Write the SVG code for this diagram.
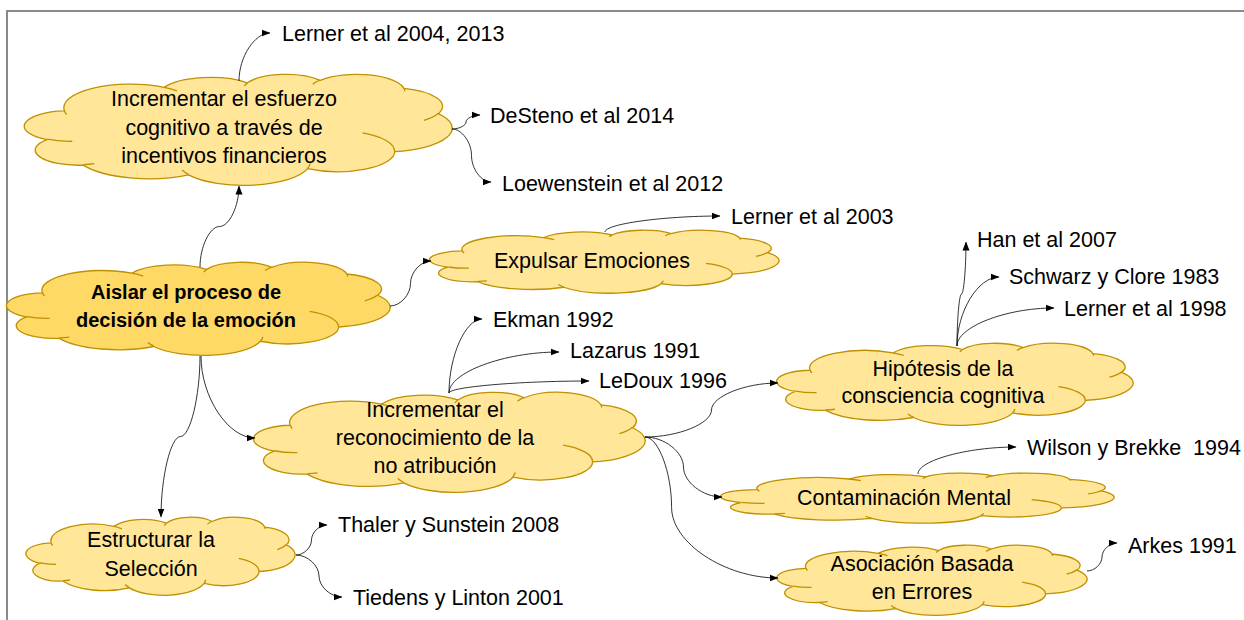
<svg xmlns="http://www.w3.org/2000/svg" xmlns:xlink="http://www.w3.org/1999/xlink" width="1244" height="620" viewBox="0 0 1244 620">
<style>
.co{vector-effect:non-scaling-stroke;stroke:#BF9000;stroke-width:1.3}
.ci{vector-effect:non-scaling-stroke;stroke:#BF9000;stroke-width:1.3;fill:none}
.lt{fill:#FFE699}
.dk{fill:#FFD966}
.t{font-family:"Liberation Sans",Arial,sans-serif;font-size:21.5px;fill:#000}
.b{font-weight:bold;font-size:20px}
.c{text-anchor:middle}
.cn{fill:none;stroke:#000;stroke-width:0.8;marker-end:url(#ah)}
</style>
<defs>
<marker id="ah" markerUnits="userSpaceOnUse" markerWidth="9" markerHeight="8" viewBox="0 0 9 7" refX="8.5" refY="3.5" orient="auto">
<path d="M0,0 L9,3.5 L0,7 Z" fill="#000"/>
</marker>
<g id="cloud">
<path class="co" d="M9.03,33.26 A15.63,21.27 0 0 1 32.42,12.04 A12.35,16.82 0 0 1 51.97,7.93 A10.10,13.76 0 0 1 69.05,5.73 A11.24,15.27 0 0 1 88.69,12.88 A12.35,16.84 0 0 1 96.79,35.76 A15.68,21.34 0 0 1 86.58,69.89 A13.39,18.21 0 0 1 66.11,85.21 A15.63,21.33 0 0 1 38.15,90.85 A17.87,24.41 0 0 1 13.43,82.10 A10.09,13.70 0 0 1 4.90,59.12 A10.06,13.76 0 0 1 9.03,33.26 Z"/>
<path class="ci" d="M10.86,60.59 A10.06,13.76 0 0 1 4.99,58.75 M16.04,80.78 A10.09,13.70 0 0 1 13.46,81.67 M38.14,90.49 A15.63,21.33 0 0 1 36.61,86.48 M66.73,80.44 A15.63,21.33 0 0 1 66.11,84.88 M79.00,53.13 A13.39,18.21 0 0 1 86.53,69.65 M96.75,35.54 A12.35,16.84 0 0 1 93.40,41.74 M88.71,12.56 A11.24,15.27 0 0 1 88.89,15.50 M67.31,9.15 A11.24,15.27 0 0 1 69.03,5.42 M51.25,10.93 A10.10,13.76 0 0 1 52.08,7.71 M32.41,12.02 A15.63,21.27 0 0 1 35.42,15.14 M9.55,36.55 A15.63,21.27 0 0 1 9.03,33.27"/>
</g>
</defs>
<rect width="1244" height="620" fill="#fff"/>
<rect x="7" y="11" width="1300" height="700" fill="none" stroke="#8A8A8A" stroke-width="2"/>

<g id="nodes">
<g id="node-aislar">
<use xlink:href="#cloud" class="dk" transform="translate(8,262) scale(3.82,0.93)"/>
<text class="t b c" x="186" y="299">Aislar el proceso de</text>
<text class="t b c" x="186" y="327">decisión de la emoción</text>
</g>
<g id="node-esfuerzo">
<use xlink:href="#cloud" class="lt" transform="translate(26,74) scale(4.26,1.11)"/>
<text class="t c" x="224" y="106">Incrementar el esfuerzo</text>
<text class="t c" x="224" y="135">cognitivo a través de</text>
<text class="t c" x="224" y="163">incentivos financieros</text>
</g>
<g id="node-expulsar">
<use xlink:href="#cloud" class="lt" transform="translate(431,230) scale(3.48,0.63)"/>
<text class="t c" x="592" y="268">Expulsar Emociones</text>
</g>
<g id="node-reconocimiento">
<use xlink:href="#cloud" class="lt" transform="translate(255,392) scale(3.90,1.00)"/>
<text class="t c" x="435" y="417">Incrementar el</text>
<text class="t c" x="435" y="445">reconocimiento de la</text>
<text class="t c" x="435" y="473">no atribución</text>
</g>
<g id="node-estructurar">
<use xlink:href="#cloud" class="lt" transform="translate(27,517) scale(2.68,0.78)"/>
<text class="t c" x="151" y="547">Estructurar la</text>
<text class="t c" x="151" y="576">Selección</text>
</g>
<g id="node-hipotesis">
<use xlink:href="#cloud" class="lt" transform="translate(778,343) scale(3.55,0.82)"/>
<text class="t c" x="943" y="376">Hipótesis de la</text>
<text class="t c" x="943" y="403">consciencia cognitiva</text>
</g>
<g id="node-contaminacion">
<use xlink:href="#cloud" class="lt" transform="translate(722,473) scale(3.92,0.50)"/>
<text class="t c" x="904" y="505">Contaminación Mental</text>
</g>
<g id="node-asociacion">
<use xlink:href="#cloud" class="lt" transform="translate(778,545) scale(3.09,0.70)"/>
<text class="t c" x="922" y="571">Asociación Basada</text>
<text class="t c" x="922" y="599">en Errores</text>
</g>

<g id="ref-lerner2004"><text class="t" x="282" y="41">Lerner et al 2004, 2013</text></g>
<g id="ref-desteno"><text class="t" x="490" y="123">DeSteno et al 2014</text></g>
<g id="ref-loewenstein"><text class="t" x="502" y="191">Loewenstein et al 2012</text></g>
<g id="ref-lerner2003"><text class="t" x="731" y="224">Lerner et al 2003</text></g>
<g id="ref-ekman"><text class="t" x="493" y="327">Ekman 1992</text></g>
<g id="ref-lazarus"><text class="t" x="570" y="358">Lazarus 1991</text></g>
<g id="ref-ledoux"><text class="t" x="599" y="388">LeDoux 1996</text></g>
<g id="ref-han"><text class="t" x="977" y="247">Han et al 2007</text></g>
<g id="ref-schwarz"><text class="t" x="1009" y="284">Schwarz y Clore 1983</text></g>
<g id="ref-lerner1998"><text class="t" x="1064" y="316">Lerner et al 1998</text></g>
<g id="ref-wilson"><text class="t" x="1027" y="455" xml:space="preserve" style="white-space:pre">Wilson y Brekke  1994</text></g>
<g id="ref-arkes"><text class="t" x="1128" y="553">Arkes 1991</text></g>
<g id="ref-thaler"><text class="t" x="338" y="532">Thaler y Sunstein 2008</text></g>
<g id="ref-tiedens"><text class="t" x="353" y="605">Tiedens y Linton 2001</text></g>
</g>

<g id="connectors">
<path class="cn" d="M200,267 C200,246.75 209.75,226.5 219.5,226.5 C229.25,226.5 239,206.25 239,186"/>
<path class="cn" d="M390,306 C400.25,306 410.5,294.75 410.5,283.5 C410.5,272.25 420.75,261 431,261"/>
<path class="cn" d="M201,356 C201,397 228,438 255,438"/>
<path class="cn" d="M200,356 C200,396.25 190.25,436.5 180.5,436.5 C170.75,436.5 161,476.75 161,517"/>
<path class="cn" d="M239,81 C239,57 254.5,33 270,33"/>
<path class="cn" d="M452,129 C459,129 466,125.5 466,122 C466,118.5 473,115 480,115"/>
<path class="cn" d="M452,129 C461.75,129 471.5,142.25 471.5,155.5 C471.5,168.75 481.25,182 491,182"/>
<path class="cn" d="M605,232 C605,224 662.5,216 720,216"/>
<path class="cn" d="M449,393 C449,356 465.5,319 482,319"/>
<path class="cn" d="M449,393 C449,372.5 504,352 559,352"/>
<path class="cn" d="M449,393 C449,387 519,381 589,381"/>
<path class="cn" d="M645,437 C678.25,437 711.5,423.5 711.5,410 C711.5,396.5 744.75,383 778,383"/>
<path class="cn" d="M645,437 C664.25,437 683.5,452 683.5,467 C683.5,482 702.75,497 722,497"/>
<path class="cn" d="M645,437 C658.3,437 671.6,472.25 671.6,507.5 C671.6,542.75 724.8,578 778,578"/>
<path class="cn" d="M957,346 C957,320 959.25,294 961.5,294 C963.75,294 966,268 966,242"/>
<path class="cn" d="M957,346 C957,311.5 978,277 999,277"/>
<path class="cn" d="M957,346 C957,327 1005.5,308 1054,308"/>
<path class="cn" d="M918,474 C918,460.5 967,447 1016,447"/>
<path class="cn" d="M1087,571 C1094.5,571 1102,564 1102,557 C1102,550 1109.5,543 1117,543"/>
<path class="cn" d="M296,555 C303.75,555 311.5,547.5 311.5,540 C311.5,532.5 319.25,525 327,525"/>
<path class="cn" d="M296,555 C307.5,555 319,565.5 319,576 C319,586.5 330.5,597 342,597"/>
</g>
</svg>
